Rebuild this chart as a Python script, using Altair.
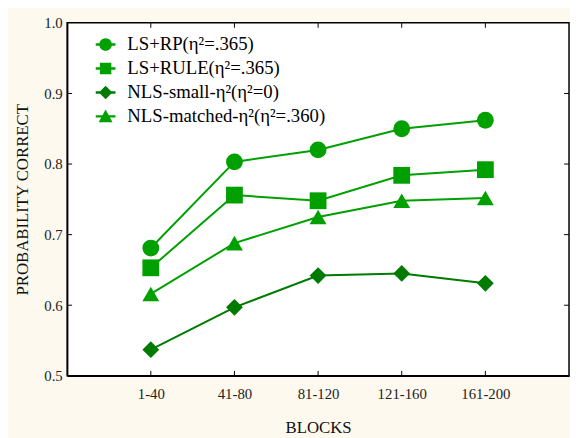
import altair as alt
import pandas as pd

blocks = ["1-40", "41-80", "81-120", "121-160", "161-200"]
series = [
    "LS+RP(η²=.365)",
    "LS+RULE(η²=.365)",
    "NLS-small-η²(η²=0)",
    "NLS-matched-η²(η²=.360)",
]
ls_rp = [0.681, 0.803, 0.820, 0.850, 0.862]
ls_rule = [0.653, 0.756, 0.748, 0.784, 0.792]
nls_small = [0.537, 0.597, 0.642, 0.645, 0.631]
nls_matched = [0.616, 0.688, 0.725, 0.748, 0.752]
colors = ["#00A000", "#00A000", "#007A00", "#00A000"]
shapes = ["circle", "square", "diamond", "triangle-up"]
y_ticks = [0.6, 0.7, 0.8, 0.9]

values = [ls_rp, ls_rule, nls_small, nls_matched]
rows = []
for s, vals in zip(series, values):
    for b, v in zip(blocks, vals):
        rows.append({"series": s, "block": b, "value": v})
df = pd.DataFrame(rows)
blk = pd.DataFrame({"block": blocks})
ytk = pd.DataFrame({"v": y_ticks})
leg = pd.DataFrame({"series": series})

W, H = 509, 358
FONT = "Liberation Serif"

dash = "M-1,-0.12H1V0.12H-1Z "
legend_paths = [
    dash + "M-0.64,0A0.64,0.64,0,1,1,0.64,0A0.64,0.64,0,1,1,-0.64,0Z",
    dash + "M-0.58,-0.58H0.58V0.58H-0.58Z",
    dash + "M0,-0.68L0.68,0L0,0.68L-0.68,0Z",
    dash + "M0,-0.7L0.7,0.6H-0.7Z",
]

xscale = alt.Scale(type="point", padding=1)
yscale = alt.Scale(domain=[0.5, 1.0], nice=False)

x_enc = alt.X("block:N", sort=blocks, scale=xscale,
              axis=alt.Axis(title="BLOCKS", labelAngle=0, ticks=False,
                            labelPadding=11, titlePadding=18,
                            titleFontWeight="normal"))
y_enc = alt.Y("value:Q", scale=yscale,
              axis=alt.Axis(title="PROBABILITY CORRECT", values=[0.5, 0.6, 0.7, 0.8, 0.9, 1.0],
                            format=".1f", ticks=False, labelPadding=5,
                            titlePadding=12, titleFontWeight="normal"))
cscale = alt.Scale(domain=series, range=colors)

lines = alt.Chart(df).mark_line(strokeWidth=2).encode(
    x=x_enc, y=y_enc,
    color=alt.Color("series:N", scale=cscale, legend=None),
    detail="series:N",
)
points = alt.Chart(df).mark_point(filled=True, opacity=1, size=290).encode(
    x=x_enc, y=y_enc,
    color=alt.Color("series:N", scale=cscale, legend=None),
    shape=alt.Shape("series:N", scale=alt.Scale(domain=series, range=shapes), legend=None),
)
base = alt.layer(lines, points)

legend_kw = dict(title=None, orient="none", legendX=29, legendY=12,
                 symbolSize=400, rowPadding=4.3, labelOffset=12,
                 labelFont=FONT, labelFontSize=19, labelColor="#000",
                 labelLimit=400, symbolStrokeWidth=0)
legend_layer = alt.Chart(leg).mark_point(filled=True, opacity=1, clip=True).encode(
    x=alt.value(-200), y=alt.value(-200),
    color=alt.Color("series:N", scale=cscale, legend=alt.Legend(**legend_kw)),
    shape=alt.Shape("series:N", scale=alt.Scale(domain=series, range=legend_paths),
                    legend=alt.Legend(**legend_kw)),
)

tick_bot = alt.Chart(blk).mark_rule(color="#000", strokeWidth=1).encode(
    x=alt.X("block:N", sort=blocks, scale=xscale),
    y=alt.value(H), y2=alt.value(H - 5))
tick_top = alt.Chart(blk).mark_rule(color="#000", strokeWidth=1).encode(
    x=alt.X("block:N", sort=blocks, scale=xscale),
    y=alt.value(0), y2=alt.value(5))
tick_left = alt.Chart(ytk).mark_rule(color="#000", strokeWidth=1).encode(
    y=alt.Y("v:Q", scale=yscale),
    x=alt.value(0), x2=alt.value(5))
tick_right = alt.Chart(ytk).mark_rule(color="#000", strokeWidth=1).encode(
    y=alt.Y("v:Q", scale=yscale),
    x=alt.value(W), x2=alt.value(W - 5))

chart = alt.layer(base, legend_layer, tick_bot, tick_top, tick_left, tick_right).resolve_scale(
    color="independent", shape="independent"
).properties(
    width=W, height=H,
    autosize=alt.AutoSizeParams(type="none"),
    padding={"left": 60, "top": 12, "right": 1, "bottom": 60},
    background="#FDF9EE",
).configure_view(
    fill="white", stroke="#000", strokeWidth=1.5,
).configure_axis(
    labelFont=FONT, labelFontSize=15, labelColor="#222",
    titleFont=FONT, titleFontSize=17, titleColor="#111",
    domainColor="#000", domainWidth=1.5, grid=False,
).configure_legend(
    labelFont=FONT, labelFontSize=19, labelLimit=400,
)

chart.save("out.html", embed_options={"renderer": "svg", "actions": False})
